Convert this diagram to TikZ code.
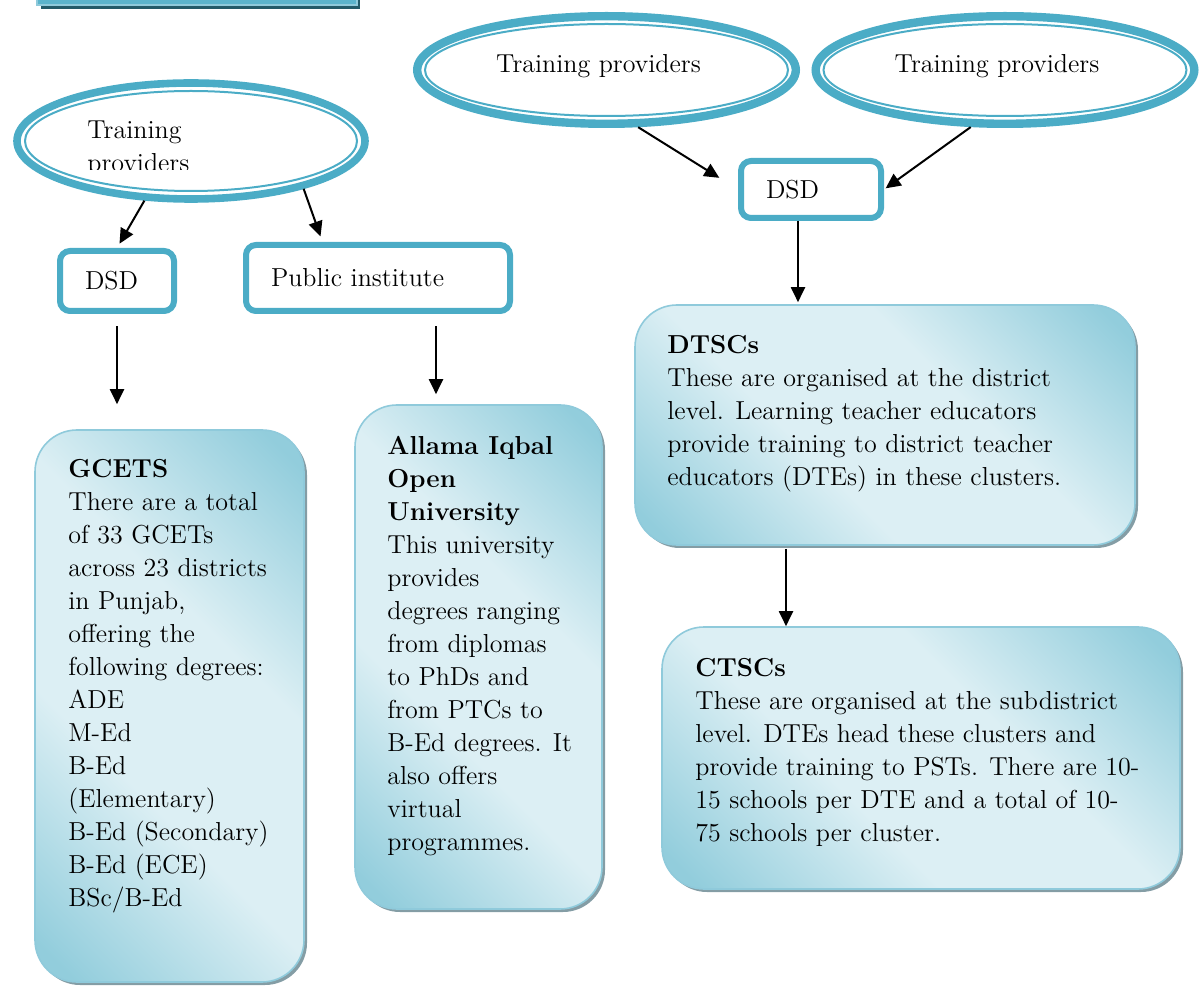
\documentclass[tikz,border=0pt]{standalone}
\usepackage{tikz}
\usetikzlibrary{shapes.geometric,arrows.meta,shadows}

\definecolor{ringblue}{HTML}{4BACC6}
\definecolor{shadedark}{HTML}{92CDDC}
\definecolor{shadelight}{HTML}{DCEFF4}
\definecolor{edgeblue}{HTML}{8FCADB}
\definecolor{shadowgrey}{HTML}{849DA5}
\definecolor{bannerblue}{HTML}{5BB4CC}
\definecolor{bannerdark}{HTML}{235B69}

\pgfdeclarehorizontalshading{boxglow}{100bp}{color(0bp)=(shadedark); color(18bp)=(shadedark);
  color(40bp)=(shadelight); color(60bp)=(shadelight); color(82bp)=(shadedark); color(100bp)=(shadedark)}

\begin{document}
\begin{tikzpicture}[x=0.5pt, y=-0.5pt,
  every node/.style={font=\fontsize{13}{16.5}\selectfont},
  ring/.style={ellipse, draw=ringblue, line width=4.2pt, inner sep=0pt},
  innerring/.style={draw=ringblue, line width=1pt},
  plainbox/.style={draw=ringblue, line width=3pt, rounded corners=5pt, fill=white,
    inner xsep=12.5pt, inner ysep=0pt, align=left},
  infobox/.style={rounded corners=21pt, draw=edgeblue, line width=0.8pt,
    shading=boxglow, shading angle=45,
    drop shadow={shadow xshift=1.5pt, shadow yshift=-1.5pt, fill=shadowgrey, opacity=1}},
  infotext/.style={anchor=north west, inner sep=0pt, align=left},
  arr/.style={-{Triangle[length=7.5pt,width=7pt]}, line width=1pt}]

  \useasboundingbox (0,0) rectangle (1200,989);

  % banner cut off at the top
  \fill[bannerdark] (41,-20) rectangle (360,9);
  \filldraw[fill=bannerblue, draw=edgeblue, line width=0.8pt] (37,-20) rectangle (357,5);

  % training providers
  \node[ring, line width=3.8pt, minimum width=174pt, minimum height=58pt] (tpL) at (191,141) {};
  \draw[innerring] (tpL.center) ellipse [x radius=166, y radius=50];
  \begin{scope}
    \clip (80,100) rectangle (260,170);
    \node[infotext] (tpLtext) at (87,120) {Training\\providers};
  \end{scope}

  \node[ring, text depth=6.9pt, minimum width=189.3pt, minimum height=53.8pt] (tpA) at (606.5,70) {Training providers\hspace*{8pt}};
  \draw[innerring] (tpA.center) ellipse [x radius=181.5, y radius=46];
  \node[ring, text depth=6.9pt, minimum width=189.3pt, minimum height=53.8pt] (tpB) at (1005,70) {Training providers\hspace*{8pt}};
  \draw[innerring] (tpB.center) ellipse [x radius=181.5, y radius=46];

  % first level
  \node[plainbox, minimum width=57pt, text width=32pt, minimum height=30pt] (dsdL) at (117,281) {DSD};
  \node[plainbox, minimum width=132pt, text width=107pt, minimum height=33pt] (pub) at (378,278) {Public institute};
  \node[plainbox, minimum width=70pt, text width=45pt, minimum height=28.5pt] (dsdR) at (811,189.5) {DSD};

  % detail boxes
  \node[infobox, minimum width=134.5pt, minimum height=276pt] (gcets) at (169.5,706) {};
  \node[infotext] (gcetsText) at (68,459) {\textbf{GCETS}\\There are a total\\of 33 GCETs\\across 23 districts\\in Punjab,\\offering the\\following degrees:\\ADE\\M-Ed\\B-Ed\\(Elementary)\\B-Ed (Secondary)\\B-Ed (ECE)\\BSc/B-Ed};

  \node[infobox, minimum width=123.5pt, minimum height=252pt] (aiou) at (478.5,657) {};
  \node[infotext] (aiouText) at (387,436) {\textbf{Allama Iqbal}\\\textbf{Open}\\\textbf{University}\\This university\\provides\\degrees ranging\\from diplomas\\to PhDs and\\from PTCs to\\B-Ed degrees. It\\also offers\\virtual\\programmes.};

  \node[infobox, minimum width=250pt, minimum height=120pt] (dtsc) at (885,425) {};
  \node[infotext] (dtscText) at (667,335) {\textbf{DTSCs}\\These are organised at the district\\level. Learning teacher educators\\provide training to district teacher\\educators (DTEs) in these clusters.};

  \node[infobox, minimum width=259pt, minimum height=131pt] (ctsc) at (921,758) {};
  \node[infotext] (ctscText) at (695,658) {\textbf{CTSCs}\\These are organised at the subdistrict\\level. DTEs head these clusters and\\provide training to PSTs. There are 10-\\15 schools per DTE and a total of 10-\\75 schools per cluster.};

  % arrows
  \draw[arr, shorten >=2.5pt] (tpL.232) -- (dsdL.north);
  \draw[arr, shorten >=3pt] (tpL.337) -- (pub.147);
  \draw[arr, shorten >=11pt] (tpA.299) -- (dsdR.west);
  \draw[arr, shorten >=1pt] (tpB.239) -- (dsdR.east);

  \draw[arr, shorten <=6.25pt, shorten >=12.5pt] (dsdL.south) -- (dsdL.south |- gcets.north);
  \draw[arr, shorten <=6.25pt, shorten >=5pt] ([xshift=29pt]pub.south) -- ([xshift=29pt]pub.south |- aiou.north);
  \draw[arr, shorten >=1pt] ([xshift=-6.5pt]dsdR.south) -- ([xshift=-6.5pt]dsdR.south |- dtsc.north);
  \draw[arr, shorten <=1.5pt] ([xshift=-49.5pt]dtsc.south) -- ([xshift=-49.5pt]dtsc.south |- ctsc.north);
\end{tikzpicture}
\end{document}
